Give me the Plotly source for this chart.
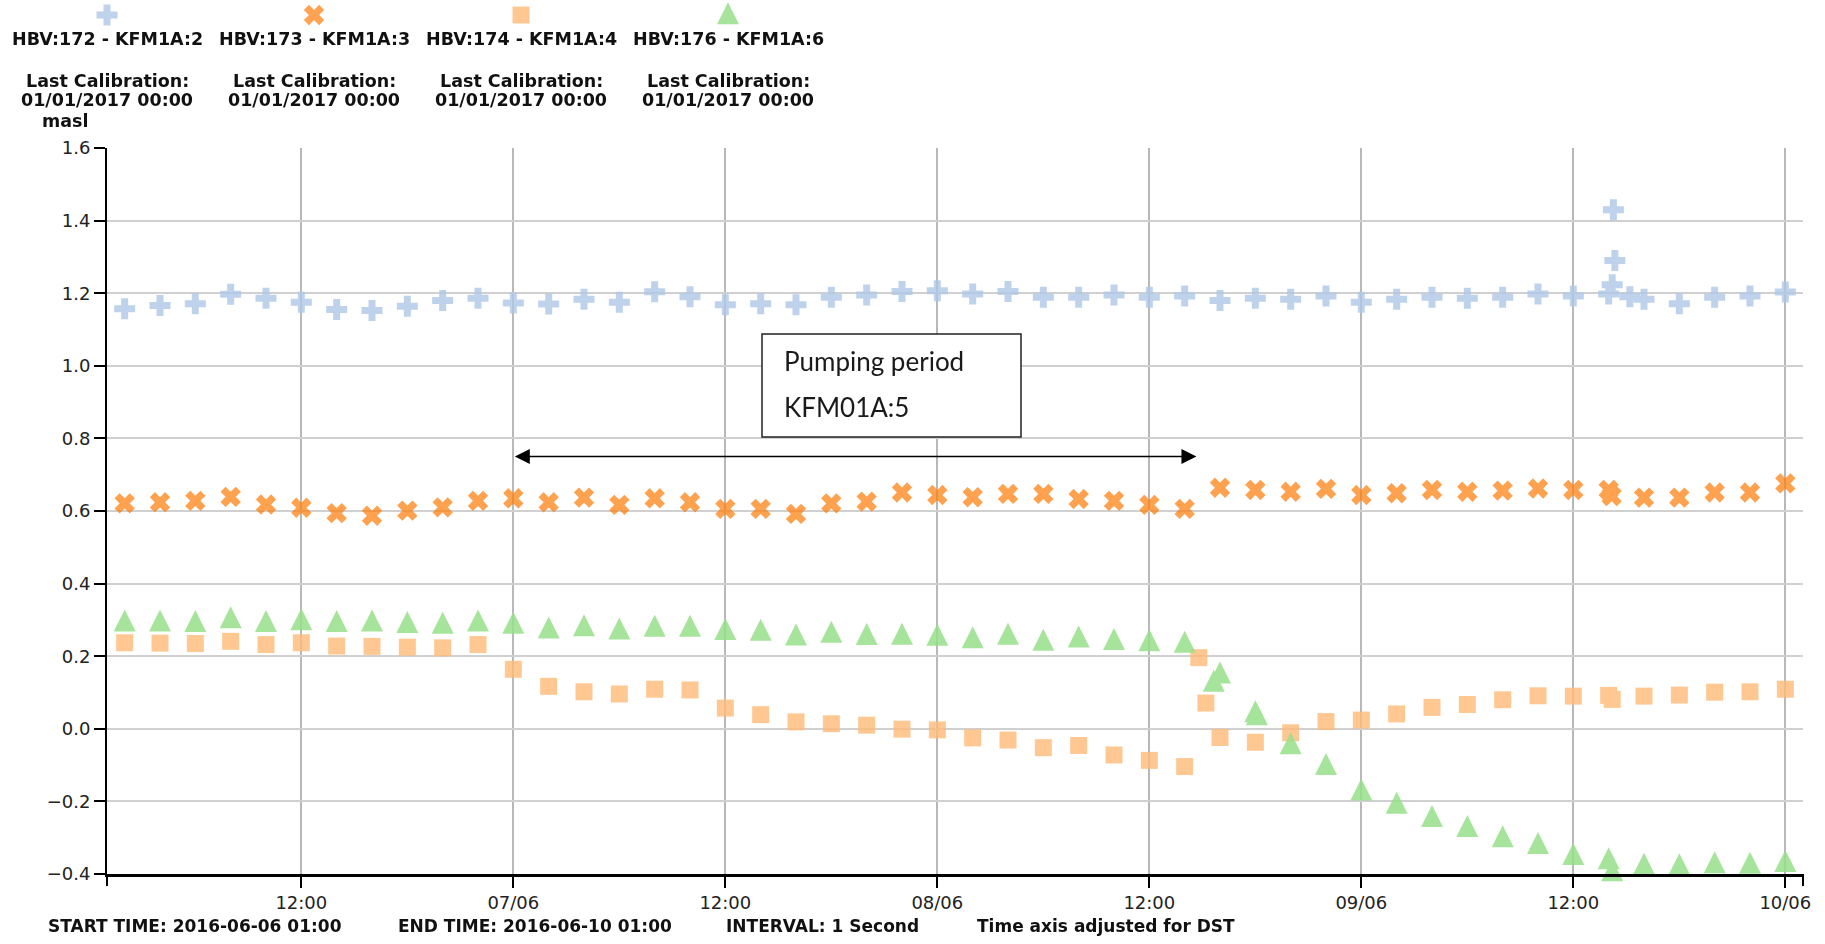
import pandas as pd
import plotly.graph_objects as go

W, H = 1825, 944

# ---------------------------------------------------------------- data
AXIS_START = "2016-06-06 01:00"
AXIS_END = "2016-06-10 01:00"

# regular 2-hourly readings
t_regular = pd.date_range("2016-06-06 02:00", "2016-06-10 00:00", freq="2h")

hbv172 = [1.157, 1.166, 1.171, 1.197, 1.186, 1.175, 1.155, 1.152, 1.164, 1.180,
          1.186, 1.173, 1.170, 1.183, 1.175, 1.204, 1.190, 1.168, 1.171, 1.168,
          1.189, 1.195, 1.205, 1.207, 1.198, 1.205, 1.189, 1.189, 1.195, 1.189,
          1.192, 1.180, 1.186, 1.183, 1.192, 1.175, 1.183, 1.189, 1.186, 1.189,
          1.198, 1.192, 1.198, 1.183, 1.171, 1.189, 1.192, 1.203]
hbv172_extra_t = ["2016-06-09 14:12", "2016-06-09 14:16", "2016-06-09 14:21", "2016-06-09 15:12"]
hbv172_extra = [1.223, 1.430, 1.290, 1.190]

hbv173 = [0.621, 0.624, 0.628, 0.639, 0.618, 0.609, 0.594, 0.587, 0.601, 0.610,
          0.628, 0.635, 0.624, 0.637, 0.617, 0.635, 0.624, 0.606, 0.606, 0.592,
          0.621, 0.626, 0.651, 0.644, 0.638, 0.647, 0.647, 0.633, 0.628, 0.617,
          0.606, 0.664, 0.658, 0.653, 0.661, 0.644, 0.649, 0.658, 0.653, 0.656,
          0.662, 0.658, 0.658, 0.637, 0.637, 0.651, 0.651, 0.676]
hbv173_extra_t = ["2016-06-09 14:10"]
hbv173_extra = [0.641]

hbv174 = [0.237, 0.236, 0.235, 0.241, 0.232, 0.237, 0.228, 0.227, 0.225, 0.223,
          0.232, 0.164, 0.117, 0.102, 0.096, 0.109, 0.107, 0.057, 0.039, 0.019,
          0.014, 0.010, -0.001, -0.003, -0.025, -0.031, -0.052, -0.046, -0.072, -0.087,
          -0.104, -0.024, -0.037, -0.011, 0.020, 0.024, 0.041, 0.059, 0.067, 0.080,
          0.091, 0.090, 0.092, 0.090, 0.093, 0.101, 0.102, 0.109]
hbv174_extra_t = ["2016-06-08 14:48", "2016-06-08 15:12", "2016-06-09 14:12"]
hbv174_extra = [0.196, 0.071, 0.081]

hbv176 = [0.288, 0.288, 0.287, 0.297, 0.287, 0.292, 0.287, 0.288, 0.284, 0.282,
          0.288, 0.282, 0.269, 0.275, 0.266, 0.274, 0.274, 0.265, 0.263, 0.250,
          0.257, 0.251, 0.252, 0.249, 0.242, 0.252, 0.235, 0.244, 0.237, 0.234,
          0.230, 0.145, 0.038, -0.050, -0.107, -0.177, -0.214, -0.250, -0.278, -0.306,
          -0.325, -0.355, -0.367, -0.382, -0.383, -0.378, -0.379, -0.374]
hbv176_extra_t = ["2016-06-08 15:39", "2016-06-08 18:05", "2016-06-09 14:12"]
hbv176_extra = [0.122, 0.030, -0.400]

series_names = ["HBV:172 - KFM1A:2", "HBV:173 - KFM1A:3", "HBV:174 - KFM1A:4", "HBV:176 - KFM1A:6"]
calibration_text = ["Last Calibration:", "01/01/2017 00:00"]

x_tickvals = ["2016-06-06 12:00", "2016-06-07 00:00", "2016-06-07 12:00", "2016-06-08 00:00",
              "2016-06-08 12:00", "2016-06-09 00:00", "2016-06-09 12:00", "2016-06-10 00:00"]
x_ticktext = ["12:00", "07/06", "12:00", "08/06", "12:00", "09/06", "12:00", "10/06"]
y_tickvals = [-0.4, -0.2, 0.0, 0.2, 0.4, 0.6, 0.8, 1.0, 1.2, 1.4, 1.6]

footer_items = ["START TIME: 2016-06-06 01:00", "END TIME: 2016-06-10 01:00",
                "INTERVAL: 1 Second", "Time axis adjusted for DST"]

pump_start = "2016-06-07 00:00"
pump_end = "2016-06-08 14:40"
pump_label = ["Pumping period", "KFM01A:5"]

# ---------------------------------------------------------------- styles
TRI = 22  # triangle marker size (arrow shape turned upright, centred on point)
marker_styles = [
    dict(symbol="cross", size=17.5, color="#aec7e8", opacity=0.8),
    dict(symbol="x", size=18, color="#ff7f0e", opacity=0.72),
    dict(symbol="square", size=17, color="#ffbb78", opacity=0.8),
    dict(symbol="arrow-down", angle=180, standoff=TRI * 2 / 3, size=TRI,
         color="#98df8a", opacity=0.85),
]

values = [hbv172, hbv173, hbv174, hbv176]
extra_t = [hbv172_extra_t, hbv173_extra_t, hbv174_extra_t, hbv176_extra_t]
extra_v = [hbv172_extra, hbv173_extra, hbv174_extra, hbv176_extra]

# plot area in pixels
PLOT_L, PLOT_R, PLOT_T, PLOT_B = 107, 1803, 148, 874


def fx(px):
    return px / W


def fy(py):
    return 1 - py / H


TXT_FONT = "DejaVu Sans"

fig = go.Figure()

for name, vals, et, ev, ms in zip(series_names, values, extra_t, extra_v, marker_styles):
    df = pd.DataFrame({"t": list(t_regular) + list(pd.to_datetime(et)),
                       "v": list(vals) + list(ev)}).sort_values("t")
    style = dict(ms)
    opacity = style.pop("opacity")
    fig.add_trace(go.Scatter(
        x=df["t"], y=df["v"], mode="markers", name=name, showlegend=False,
        opacity=opacity, cliponaxis=False,
        marker=dict(line=dict(width=0), **style),
        xaxis="x", yaxis="y",
    ))

# legend swatches drawn on a full-figure pixel overlay
LEG_X0, LEG_DX, LEG_SYM_Y = 107, 207, 15
leg_x = [LEG_X0 + i * LEG_DX for i in range(len(series_names))]
for i, ms in enumerate(marker_styles):
    style = dict(ms)
    opacity = style.pop("opacity")
    fig.add_trace(go.Scatter(
        x=[leg_x[i]], y=[LEG_SYM_Y + (2 if ms["symbol"] == "arrow-down" else 0)],
        mode="markers", showlegend=False, opacity=opacity, cliponaxis=False,
        marker=dict(line=dict(width=0), **style), xaxis="x2", yaxis="y2",
        hoverinfo="skip",
    ))

annotations = []
for i, name in enumerate(series_names):
    for txt, yy in [(name, 39), (calibration_text[0], 81), (calibration_text[1], 99.5)]:
        annotations.append(dict(
            x=fx(leg_x[i]), y=fy(yy), xref="paper", yref="paper", showarrow=False,
            text="<b>" + txt + "</b>", xanchor="center", yanchor="middle",
            font=dict(family=TXT_FONT, size=17.5, color="#111"),
        ))

annotations.append(dict(
    x=fx(65), y=fy(121), xref="paper", yref="paper", showarrow=False,
    text="<b>masl</b>", xanchor="center", yanchor="middle",
    font=dict(family=TXT_FONT, size=17.5, color="#111"),
))

for txt, xx in zip(footer_items, [46, 396, 724, 975]):
    annotations.append(dict(
        x=fx(xx), y=fy(926), xref="paper", yref="paper", showarrow=False,
        text="<b>" + txt + "</b>", xanchor="left", yanchor="middle",
        font=dict(family=TXT_FONT, size=17, color="#111"),
    ))

# pumping period label
for txt, yy in zip(pump_label, [361, 407]):
    annotations.append(dict(
        x=fx(782), y=fy(yy), xref="paper", yref="paper", showarrow=False,
        text=txt, xanchor="left", yanchor="middle",
        font=dict(family="Lato", size=26, color="#1a1a1a"),
    ))

# double-headed arrow spanning the pumping period
annotations.append(dict(
    x=pump_end, y=0.75, ax=pump_start, ay=0.75, xref="x", yref="y",
    axref="x", ayref="y", text="", showarrow=True,
    arrowside="end+start", arrowhead=2, startarrowhead=2,
    arrowsize=2, startarrowsize=2, arrowwidth=1.5, arrowcolor="#000",
    standoff=0, startstandoff=0,
))

shapes = [
    dict(type="rect", xref="paper", yref="paper", x0=fx(762), x1=fx(1021),
         y0=fy(437), y1=fy(334), line=dict(color="#222", width=1.5),
         fillcolor="white", layer="above"),
    # outer ticks at both ends of the time axis
    dict(type="line", xref="paper", yref="paper", x0=fx(PLOT_L), x1=fx(PLOT_L),
         y0=fy(PLOT_B), y1=fy(PLOT_B + 12), line=dict(color="#000", width=2)),
    dict(type="line", xref="paper", yref="paper", x0=fx(PLOT_R), x1=fx(PLOT_R),
         y0=fy(PLOT_B), y1=fy(PLOT_B + 12), line=dict(color="#000", width=2)),
]

fig.update_layout(
    width=W, height=H, template="none",
    margin=dict(l=0, r=0, t=0, b=0, pad=0),
    paper_bgcolor="white", plot_bgcolor="rgba(0,0,0,0)",
    showlegend=False,
    xaxis=dict(
        type="date", domain=[fx(PLOT_L), fx(PLOT_R)], range=[AXIS_START, AXIS_END],
        tickmode="array", tickvals=x_tickvals, ticktext=x_ticktext,
        ticks="outside", ticklen=11, tickwidth=2, tickcolor="#000",
        showline=True, linecolor="#000", linewidth=2.5,
        showgrid=True, gridcolor="#b8b8b8", gridwidth=1.5,
        zeroline=False, automargin=False, anchor="y",
        tickfont=dict(family=TXT_FONT, size=18, color="#222"),
    ),
    yaxis=dict(
        domain=[fy(PLOT_B), fy(PLOT_T)], range=[-0.4, 1.6],
        tickmode="array", tickvals=y_tickvals, tickformat=".1f",
        ticks="outside", ticklen=11, tickwidth=2, tickcolor="#000",
        showline=True, linecolor="#000", linewidth=2,
        showgrid=True, gridcolor="#d0d0d0", gridwidth=1.5,
        zeroline=False, automargin=False, anchor="x",
        tickfont=dict(family=TXT_FONT, size=18, color="#222"),
    ),
    xaxis2=dict(domain=[0, 1], range=[0, W], visible=False, fixedrange=True,
                anchor="y2", automargin=False),
    yaxis2=dict(domain=[0, 1], range=[H, 0], visible=False, fixedrange=True,
                anchor="x2", automargin=False),
    annotations=annotations,
    shapes=shapes,
)

fig.write_html("out.html")
